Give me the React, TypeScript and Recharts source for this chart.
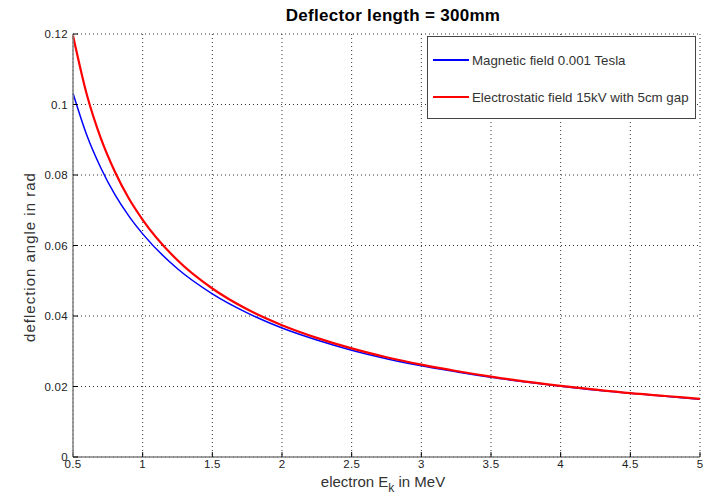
import {
  LineChart,
  Line,
  XAxis,
  YAxis,
  CartesianGrid,
  Legend,
} from 'recharts'

const energy = [0.5, 0.6, 0.7, 0.8, 0.9, 1, 1.25, 1.5, 1.75, 2, 2.25, 2.5, 2.75, 3, 3.25, 3.5, 3.75, 4, 4.25, 4.5, 4.75, 5]
const magnetic = [0.1032, 0.0912, 0.082, 0.0745, 0.0684, 0.0633, 0.0534, 0.0463, 0.0409, 0.0366, 0.0332, 0.0303, 0.0279, 0.0259, 0.0242, 0.0226, 0.0213, 0.0201, 0.019, 0.0181, 0.0172, 0.0164]
const electrostatic = [0.1196, 0.1027, 0.0904, 0.081, 0.0734, 0.0673, 0.0558, 0.0478, 0.0419, 0.0374, 0.0338, 0.0308, 0.0283, 0.0262, 0.0244, 0.0228, 0.0214, 0.0202, 0.0191, 0.0181, 0.0173, 0.0165]
const seriesNames = ['Magnetic field 0.001 Tesla', 'Electrostatic field 15kV with 5cm gap']
const xTicks = [0.5, 1, 1.5, 2, 2.5, 3, 3.5, 4, 4.5, 5]
const yTicks = [0, 0.02, 0.04, 0.06, 0.08, 0.1, 0.12]

const data = energy.map((e, i) => ({ e, mag: magnetic[i], el: electrostatic[i] }))

const FONT = "'Liberation Sans', Arial, Helvetica, sans-serif"
const tickStyle = { fontSize: 11.5, fill: '#222', fontFamily: FONT, letterSpacing: 0.3 }

// eslint-disable-next-line @typescript-eslint/no-explicit-any
function LegendBox(props: any) {
  // keep the legend in the order the series were plotted
  // eslint-disable-next-line @typescript-eslint/no-explicit-any
  const payload = [...(props.payload || [])].sort(
    (a: any, b: any) => seriesNames.indexOf(a.value) - seriesNames.indexOf(b.value)
  )
  return (
    <div
      style={{
        width: 269,
        height: 83,
        boxSizing: 'border-box',
        border: '1px solid #444',
        background: '#fff',
        position: 'relative',
        fontFamily: FONT,
        fontSize: 13.3,
        color: '#333',
      }}
    >
      {/* eslint-disable-next-line @typescript-eslint/no-explicit-any */}
      {payload.map((entry: any, i: number) => (
        <div
          key={entry.value}
          style={{
            position: 'absolute',
            left: 5,
            top: i === 0 ? 14 : 51,
            height: 18,
            display: 'flex',
            alignItems: 'center',
            whiteSpace: 'nowrap',
          }}
        >
          <span style={{ display: 'inline-block', width: 36, height: 2, background: entry.color, marginRight: 3 }} />
          <span>{entry.value}</span>
        </div>
      ))}
    </div>
  )
}

export default function App() {
  return (
    <div style={{ position: 'absolute', left: 0, top: 0, width: 713, height: 501, background: '#fff' }}>
      <LineChart width={713} height={501} data={data} margin={{ top: 34, right: 13, bottom: 0, left: 0 }}>
        <text
          x={393}
          y={21}
          textAnchor="middle"
          fontFamily={FONT}
          fontSize={17}
          fontWeight="bold"
          letterSpacing={0.3}
          fill="#000"
        >
          Deflector length = 300mm
        </text>
        <text x={383} y={487} textAnchor="middle" fontFamily={FONT} fontSize={15} fill="#333">
          electron E<tspan fontSize={12} dy={5}>k</tspan>
          <tspan dy={-5}> in MeV</tspan>
        </text>
        <text
          x={35}
          y={257}
          transform="rotate(-90 35 257)"
          textAnchor="middle"
          fontFamily={FONT}
          fontSize={15}
          letterSpacing={1}
          fill="#333"
        >
          deflection angle in rad
        </text>
        <CartesianGrid stroke="#333" strokeDasharray="1 3" />
        <XAxis
          dataKey="e"
          type="number"
          domain={[0.5, 5]}
          ticks={xTicks}
          height={44}
          stroke="#808080"
          strokeWidth={1.5}
          tickSize={-5}
          tickMargin={8}
          tickLine={{ stroke: '#000', strokeWidth: 1 }}
          tick={tickStyle}
        />
        <XAxis
          xAxisId="top"
          orientation="top"
          dataKey="e"
          type="number"
          domain={[0.5, 5]}
          ticks={xTicks}
          height={0}
          stroke="#000"
          tickSize={-5}
          tick={false}
        />
        <YAxis
          type="number"
          domain={[0, 0.12]}
          ticks={yTicks}
          width={73}
          stroke="#808080"
          strokeWidth={1.5}
          tickSize={-5}
          tickMargin={10}
          tickLine={{ stroke: '#000', strokeWidth: 1 }}
          tick={tickStyle}
        />
        <YAxis
          yAxisId="right"
          orientation="right"
          type="number"
          domain={[0, 0.12]}
          ticks={yTicks}
          width={0}
          stroke="#000"
          tickSize={-5}
          tick={false}
        />
        <Line
          type="monotone"
          dataKey="mag"
          name={seriesNames[0]}
          stroke="#0000ff"
          strokeWidth={1.5}
          dot={false}
          isAnimationActive={false}
        />
        <Line
          type="monotone"
          dataKey="el"
          name={seriesNames[1]}
          stroke="#ff0000"
          strokeWidth={2.2}
          dot={false}
          isAnimationActive={false}
        />
        <Legend
          layout="horizontal"
          align="center"
          verticalAlign="middle"
          content={LegendBox}
          wrapperStyle={{ left: 427, top: 36, width: 269, height: 83 }}
        />
      </LineChart>
    </div>
  )
}
